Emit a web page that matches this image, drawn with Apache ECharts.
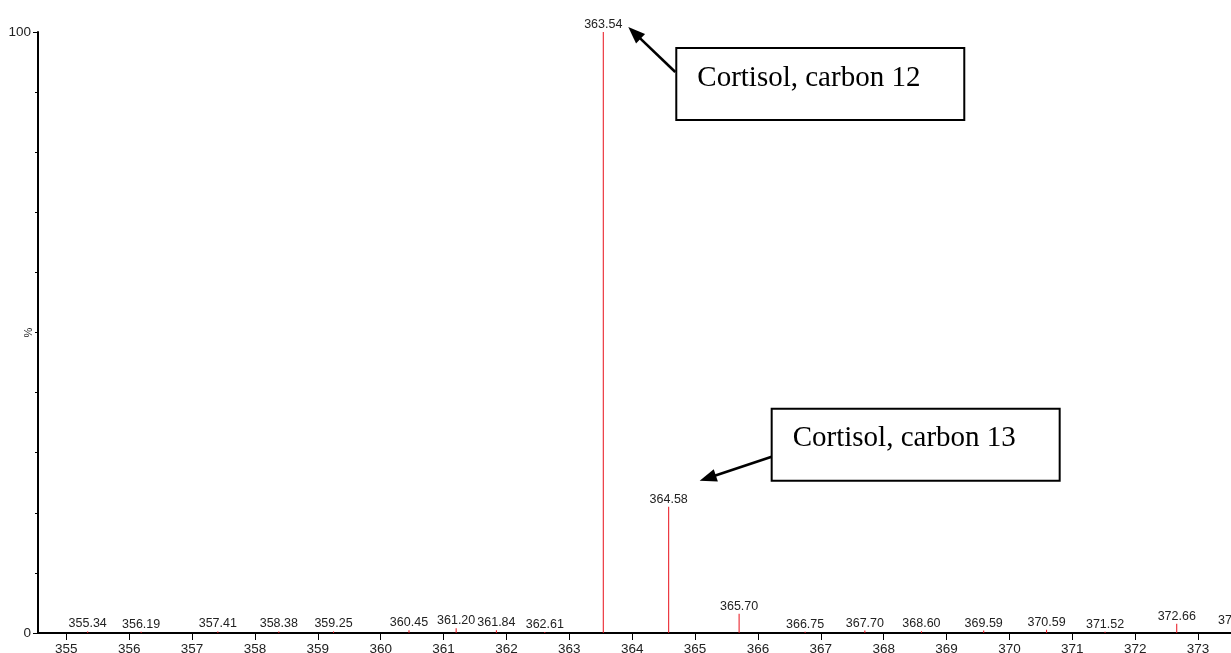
<!DOCTYPE html>
<html>
<head>
<meta charset="utf-8">
<script src="https://cdn.jsdelivr.net/npm/echarts@6/dist/echarts.min.js"></script>
<style>
  html, body { margin: 0; padding: 0; background: #ffffff; }
  #main { width: 1231px; height: 653px; }
</style>
</head>
<body>
<div id="main"></div>
<script>
// Mass spectrum around the cortisol ion cluster (m/z vs relative abundance %)
const mz = [355.34, 356.19, 357.41, 358.38, 359.25, 360.45, 361.20, 361.84, 362.61,
            363.54, 364.58, 365.70, 366.75, 367.70, 368.60, 369.59, 370.59, 371.52,
            372.66, 373.62];
const abundance = [0.25, 0.2, 0.25, 0.25, 0.25, 0.45, 0.8, 0.45, 0.15,
                   100, 21.0, 3.2, 0.2, 0.4, 0.3, 0.4, 0.55, 0.2,
                   1.55, 0.8];
const xTicks = [355, 356, 357, 358, 359, 360, 361, 362, 363, 364, 365, 366,
                367, 368, 369, 370, 371, 372, 373, 374];
const yTicks = [0, 100];
const notes = [
  { text: 'Cortisol, carbon 12', peak: 363.54 },
  { text: 'Cortisol, carbon 13', peak: 364.58 }
];

const chart = echarts.init(document.getElementById('main'), null, { renderer: 'canvas' });

const axisFont = 'Liberation Sans, Arial, sans-serif';

chart.setOption({
  animation: false,
  backgroundColor: '#ffffff',
  grid: { left: 38, right: -30, top: 32, bottom: 20, containLabel: false, outerBoundsMode: 'none' },
  xAxis: {
    type: 'value',
    min: 354.55,
    max: 374,
    axisLine: { show: true, lineStyle: { color: '#000', width: 2 } },
    axisTick: { show: true, customValues: xTicks, length: 7, lineStyle: { color: '#000', width: 1 } },
    axisLabel: {
      customValues: xTicks, margin: 9, color: '#222',
      fontFamily: axisFont, fontSize: 13.5,
      formatter: v => String(Math.round(v))
    },
    splitLine: { show: false }
  },
  yAxis: {
    type: 'value',
    min: 0,
    max: 100,
    interval: 100,
    name: '%',
    nameLocation: 'middle',
    nameGap: 4,
    nameMoveOverlap: false,
    nameTextStyle: { color: '#222', fontFamily: axisFont, fontSize: 11 },
    axisLine: { show: true, lineStyle: { color: '#000', width: 2 } },
    axisTick: { show: true, customValues: yTicks, length: 5, lineStyle: { color: '#000', width: 1 } },
    minorTick: { show: true, splitNumber: 10, length: 3, lineStyle: { color: '#000', width: 1 } },
    axisLabel: {
      customValues: yTicks, margin: 7, color: '#222',
      fontFamily: axisFont, fontSize: 13.5
    },
    splitLine: { show: false },
    minorSplitLine: { show: false }
  },
  series: [{
    type: 'bar',
    barWidth: 1,
    itemStyle: { color: '#e8101a' },
    label: {
      show: true,
      position: 'top',
      distance: 1,
      color: '#222',
      fontFamily: axisFont,
      fontSize: 12.5,
      formatter: p => p.value[0].toFixed(2)
    },
    data: mz.map((m, i) => [m, abundance[i]])
  }]
});

// Callout boxes with arrows pointing at the labelled peaks
function arrow(sx, sy, tx, ty) {
  const dx = tx - sx, dy = ty - sy;
  const len = Math.hypot(dx, dy);
  const ux = dx / len, uy = dy / len;
  const headLen = 17, headHalf = 6.5;
  const bx = tx - ux * headLen, by = ty - uy * headLen;
  const nx = -uy, ny = ux;
  return [
    { type: 'line', shape: { x1: sx, y1: sy, x2: bx + ux * 2, y2: by + uy * 2 },
      style: { stroke: '#000', lineWidth: 2.6 }, z: 100 },
    { type: 'polygon',
      shape: { points: [[tx, ty], [bx + nx * headHalf, by + ny * headHalf], [bx - nx * headHalf, by - ny * headHalf]] },
      style: { fill: '#000' }, z: 100 }
  ];
}

function callout(note, boxDX, boxDY, tailDX, tailDY, tipDX, tipDY) {
  const i = mz.indexOf(note.peak);
  const p = chart.convertToPixel({ gridIndex: 0 }, [mz[i], abundance[i]]);
  const bx = p[0] + boxDX, by = p[1] + boxDY;
  return [
    { type: 'rect', shape: { x: bx, y: by, width: 288, height: 72 },
      style: { fill: '#fff', stroke: '#000', lineWidth: 2 }, z: 100 },
    { type: 'text', x: bx + 21, y: by + 30,
      style: { text: note.text, fill: '#000', font: '29px "Liberation Serif", "Times New Roman", serif',
               textAlign: 'left', textVerticalAlign: 'middle' }, z: 101 },
    ...arrow(p[0] + tailDX, p[1] + tailDY, p[0] + tipDX, p[1] + tipDY)
  ];
}

chart.setOption({
  graphic: [
    ...callout(notes[0], 73, 16, 72, 40, 25, -5),
    ...callout(notes[1], 103, -98, 103, -50, 31, -26)
  ]
});
</script>
</body>
</html>
